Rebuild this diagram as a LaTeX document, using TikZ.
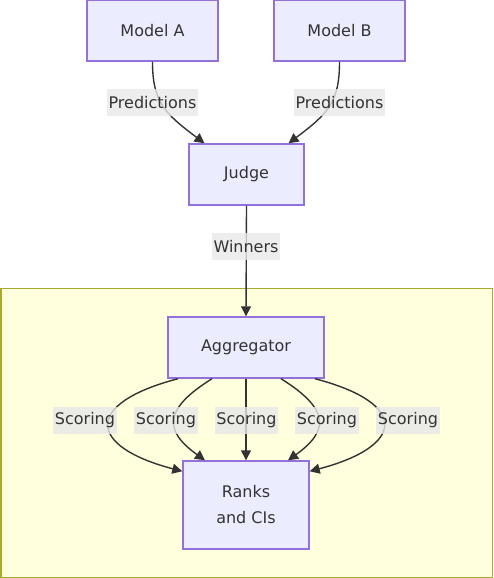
\documentclass[tikz,border=0pt]{standalone}
\usepackage{fontspec}
\setmainfont{DejaVu Sans}
\usetikzlibrary{arrows.meta,calc,positioning}
\definecolor{nodefill}{HTML}{ECECFF}
\definecolor{nodeline}{HTML}{9370DB}
\definecolor{edgegray}{HTML}{333333}
\definecolor{labelgray}{HTML}{E8E8E8}
\definecolor{clusterfill}{HTML}{FFFFDE}
\definecolor{clusterline}{HTML}{AAAA33}

\begin{document}
\begin{tikzpicture}[
        x=1pt, y=-1pt,
        proc/.style={rectangle, draw=nodeline, fill=nodefill, line width=1.4pt, text=edgegray,
            font=\fontsize{16}{26}\selectfont, align=center, minimum height=61pt, inner sep=0pt},
        lbl/.style={rectangle, fill=labelgray, fill opacity=0.8, text opacity=1, text=edgegray,
            font=\fontsize{16}{19}\selectfont, inner xsep=1.5pt, inner ysep=0pt, minimum height=27pt},
        edge/.style={draw=edgegray, line width=1.4pt, -{Triangle[length=10pt,width=10pt]}},
    ]
        \useasboundingbox (0,0) rectangle (493,578);

        % cluster
        \draw[fill=clusterfill, draw=clusterline, line width=1.5pt] (0.75,288.5) rectangle (492.25,577.25);

        \node[proc, minimum width=131pt] (modela) at (152.5,30.5) {Model A};
        \node[proc, minimum width=131pt] (modelb) at (339.5,30.5) {Model B};
        \node[proc, minimum width=115pt] (judge) at (246.5,174.5) {Judge};
        \node[proc, minimum width=156pt] (agg) at (246,347.5) {Aggregator};
        \node[proc, minimum width=126pt, minimum height=88pt] (ranks) at (246,505) {Ranks\\and CIs};

        % edges
        \draw[edge] (modela.south) .. controls +(0,40) and +(-40,-30) .. ($(judge.north)+(-42,0)$);
        \draw[edge] (modelb.south) .. controls +(0,40) and +(40,-30) .. ($(judge.north)+(42,0)$);
        \draw[edge] (judge.south) -- (agg.north);

        \draw[edge] ($(agg.south)+(-68,0)$) .. controls +(-95,25) and +(-95,-25) .. ($(ranks.north west)+(0,11)$);
        \draw[edge] ($(agg.south)+(-34,0)$) .. controls +(-48,30) and +(-42,-30) .. ($(ranks.north)+(-41,0)$);
        \draw[edge] (agg.south) -- (ranks.north);
        \draw[edge] ($(agg.south)+(35,0)$) .. controls +(48,30) and +(42,-30) .. ($(ranks.north)+(42,0)$);
        \draw[edge] ($(agg.south)+(69,0)$) .. controls +(95,25) and +(95,-25) .. ($(ranks.north east)+(0,11)$);

        % edge labels
        \node[lbl] (predA) at (152.5,102.5) {Predictions};
        \node[lbl] (predB) at (339.5,102.5) {Predictions};
        \node[lbl] (win) at (246,246.5) {Winners};
        \node[lbl] (score1) at (85,420) {Scoring};
        \node[lbl] (score2) at (166,420) {Scoring};
        \node[lbl] (score3) at (246.5,420) {Scoring};
        \node[lbl] (score4) at (327,420) {Scoring};
        \node[lbl] (score5) at (408,420) {Scoring};
    \end{tikzpicture}
\end{document}
